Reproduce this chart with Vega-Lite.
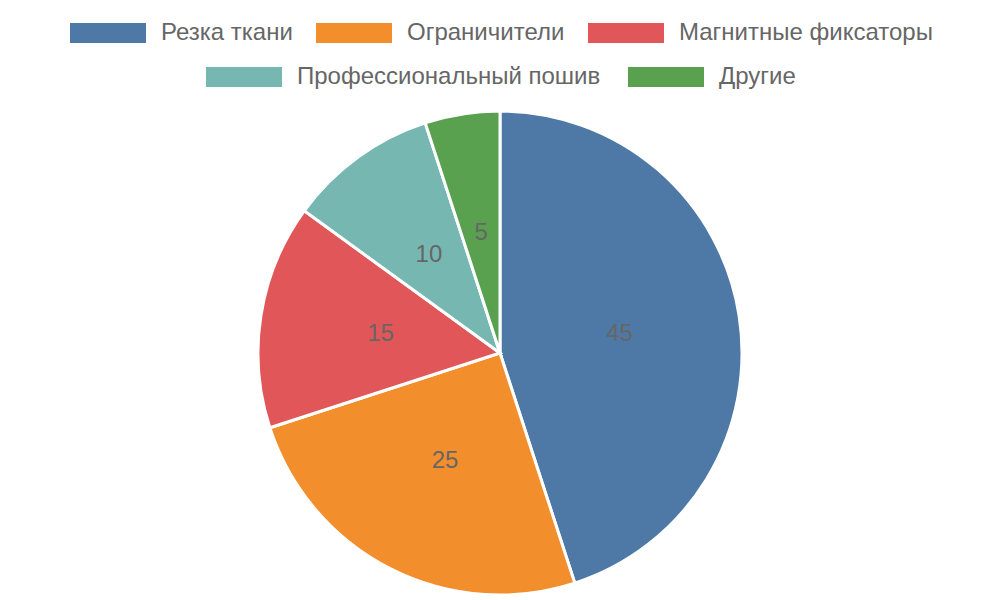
{
  "$schema": "https://vega.github.io/schema/vega-lite/v6.json",
  "width": 1000,
  "height": 484,
  "autosize": "none",
  "padding": {"top": 111, "left": 0, "right": 0, "bottom": 5},
  "background": "white",
  "data": {"values": [
    {"category": "Резка ткани", "value": 45, "order": 1},
    {"category": "Ограничители", "value": 25, "order": 2},
    {"category": "Магнитные фиксаторы", "value": 15, "order": 3},
    {"category": "Профессиональный пошив", "value": 10, "order": 4},
    {"category": "Другие", "value": 5, "order": 5}
  ]},
  "layer": [
    {
      "mark": {"type": "arc", "outerRadius": 242, "stroke": "white", "strokeWidth": 3},
      "encoding": {
        "theta": {"field": "value", "type": "quantitative", "stack": true},
        "order": {"field": "order", "type": "quantitative"},
        "color": {
          "field": "category", "type": "nominal",
          "scale": {"domain": ["Резка ткани", "Ограничители", "Магнитные фиксаторы", "Профессиональный пошив", "Другие"],
                    "range": ["#4e79a7", "#f28e2b", "#e15759", "#76b7b2", "#59a14f"]},
          "legend": {"values": ["Резка ткани", "Ограничители", "Магнитные фиксаторы"], "orient": "none", "legendX": 70, "legendY": -116, "direction": "horizontal"}
        }
      }
    },
    {
      "mark": {"type": "arc", "outerRadius": 242, "stroke": "white", "strokeWidth": 3},
      "encoding": {
        "theta": {"field": "value", "type": "quantitative", "stack": true},
        "order": {"field": "order", "type": "quantitative"},
        "fill": {
          "field": "category", "type": "nominal",
          "scale": {"domain": ["Другие", "Профессиональный пошив", "Магнитные фиксаторы", "Ограничители", "Резка ткани"],
                    "range": ["#59a14f", "#76b7b2", "#e15759", "#f28e2b", "#4e79a7"]},
          "legend": {"values": ["Профессиональный пошив", "Другие"], "orient": "none", "legendX": 206, "legendY": -72, "direction": "horizontal", "columnPadding": 27}
        }
      }
    },
    {
      "mark": {"type": "text", "radius": 121, "fontSize": 24, "font": "Liberation Sans", "color": "#666666", "align": "center", "baseline": "middle"},
      "encoding": {
        "theta": {"field": "value", "type": "quantitative", "stack": true},
        "order": {"field": "order", "type": "quantitative"},
        "text": {"field": "value", "type": "quantitative"}
      }
    }
  ],
  "resolve": {"legend": {"color": "independent", "fill": "independent"}, "scale": {"color": "independent", "fill": "independent"}},
  "config": {
    "view": {"stroke": null},
    "legend": {
      "title": null,
      "padding": 0,
      "symbolType": "M-1,-0.263H1V0.263H-1Z",
      "symbolSize": 5776,
      "symbolStrokeWidth": 0,
      "symbolOpacity": 1,
      "labelFont": "Liberation Sans",
      "labelFontSize": 24,
      "labelColor": "#666666",
      "labelOffset": 15,
      "columnPadding": 23,
      "labelLimit": 600
    }
  }
}
